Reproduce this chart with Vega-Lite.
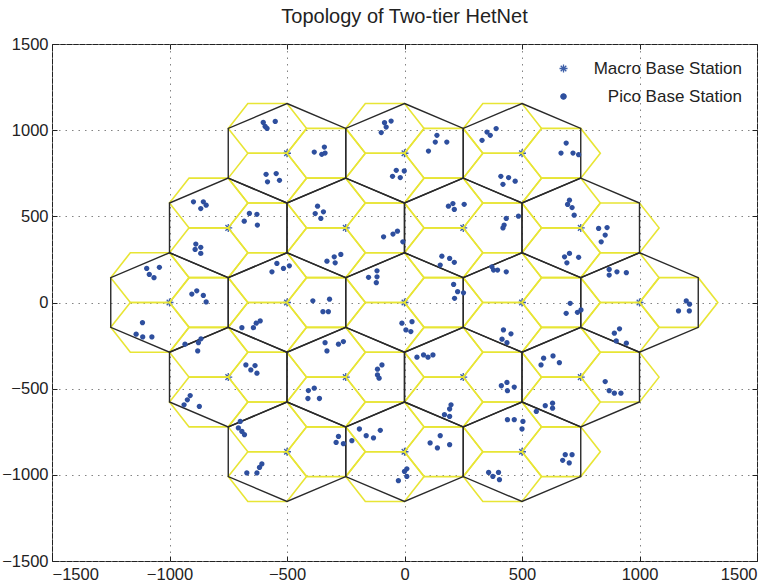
{
"$schema":"https://vega.github.io/schema/vega-lite/v6.json",
"width":705,"height":517,
"autosize":{"type":"none"},
"padding":{"left":52,"top":44,"right":20,"bottom":24},
"background":"white",
"title":{"text":"Topology of Two-tier HetNet","font":"Liberation Sans","fontSize":20,"fontWeight":"normal","color":"#222222","offset":9,"anchor":"middle"},
"config":{"view":{"stroke":"#222222","strokeWidth":1},
"axis":{"labelFont":"Liberation Sans","labelFontSize":16.5,"labelColor":"#222222","domain":false,"tickColor":"#222222","tickSize":-5,"tickWidth":1,"gridColor":"#777777","gridDash":[1.5,5],"gridWidth":1,"gridOpacity":0.9,"title":null,"format":"d"}},
"datasets":{
"yellow":[
{"h":"1A","o":0,"x":-166.7,"y":866},{"h":"1A","o":1,"x":-250,"y":1010.3},{"h":"1A","o":2,"x":-416.7,"y":1010.3},{"h":"1A","o":3,"x":-500,"y":866},{"h":"1A","o":4,"x":-416.7,"y":721.7},{"h":"1A","o":5,"x":-250,"y":721.7},
{"h":"1B","o":0,"x":-416.7,"y":1010.3},{"h":"1B","o":1,"x":-500,"y":1154.7},{"h":"1B","o":2,"x":-666.7,"y":1154.7},{"h":"1B","o":3,"x":-750,"y":1010.3},{"h":"1B","o":4,"x":-666.7,"y":866},{"h":"1B","o":5,"x":-500,"y":866},
{"h":"1C","o":0,"x":-416.7,"y":721.7},{"h":"1C","o":1,"x":-500,"y":866},{"h":"1C","o":2,"x":-666.7,"y":866},{"h":"1C","o":3,"x":-750,"y":721.7},{"h":"1C","o":4,"x":-666.7,"y":577.3},{"h":"1C","o":5,"x":-500,"y":577.3},
{"h":"2A","o":0,"x":333.3,"y":866},{"h":"2A","o":1,"x":250,"y":1010.3},{"h":"2A","o":2,"x":83.3,"y":1010.3},{"h":"2A","o":3,"x":0,"y":866},{"h":"2A","o":4,"x":83.3,"y":721.7},{"h":"2A","o":5,"x":250,"y":721.7},
{"h":"2B","o":0,"x":83.3,"y":1010.3},{"h":"2B","o":1,"x":0,"y":1154.7},{"h":"2B","o":2,"x":-166.7,"y":1154.7},{"h":"2B","o":3,"x":-250,"y":1010.3},{"h":"2B","o":4,"x":-166.7,"y":866},{"h":"2B","o":5,"x":0,"y":866},
{"h":"2C","o":0,"x":83.3,"y":721.7},{"h":"2C","o":1,"x":0,"y":866},{"h":"2C","o":2,"x":-166.7,"y":866},{"h":"2C","o":3,"x":-250,"y":721.7},{"h":"2C","o":4,"x":-166.7,"y":577.3},{"h":"2C","o":5,"x":0,"y":577.3},
{"h":"3A","o":0,"x":833.3,"y":866},{"h":"3A","o":1,"x":750,"y":1010.3},{"h":"3A","o":2,"x":583.3,"y":1010.3},{"h":"3A","o":3,"x":500,"y":866},{"h":"3A","o":4,"x":583.3,"y":721.7},{"h":"3A","o":5,"x":750,"y":721.7},
{"h":"3B","o":0,"x":583.3,"y":1010.3},{"h":"3B","o":1,"x":500,"y":1154.7},{"h":"3B","o":2,"x":333.3,"y":1154.7},{"h":"3B","o":3,"x":250,"y":1010.3},{"h":"3B","o":4,"x":333.3,"y":866},{"h":"3B","o":5,"x":500,"y":866},
{"h":"3C","o":0,"x":583.3,"y":721.7},{"h":"3C","o":1,"x":500,"y":866},{"h":"3C","o":2,"x":333.3,"y":866},{"h":"3C","o":3,"x":250,"y":721.7},{"h":"3C","o":4,"x":333.3,"y":577.3},{"h":"3C","o":5,"x":500,"y":577.3},
{"h":"4A","o":0,"x":-416.7,"y":433},{"h":"4A","o":1,"x":-500,"y":577.3},{"h":"4A","o":2,"x":-666.7,"y":577.3},{"h":"4A","o":3,"x":-750,"y":433},{"h":"4A","o":4,"x":-666.7,"y":288.7},{"h":"4A","o":5,"x":-500,"y":288.7},
{"h":"4B","o":0,"x":-666.7,"y":577.3},{"h":"4B","o":1,"x":-750,"y":721.7},{"h":"4B","o":2,"x":-916.7,"y":721.7},{"h":"4B","o":3,"x":-1000,"y":577.3},{"h":"4B","o":4,"x":-916.7,"y":433},{"h":"4B","o":5,"x":-750,"y":433},
{"h":"4C","o":0,"x":-666.7,"y":288.7},{"h":"4C","o":1,"x":-750,"y":433},{"h":"4C","o":2,"x":-916.7,"y":433},{"h":"4C","o":3,"x":-1000,"y":288.7},{"h":"4C","o":4,"x":-916.7,"y":144.3},{"h":"4C","o":5,"x":-750,"y":144.3},
{"h":"5A","o":0,"x":83.3,"y":433},{"h":"5A","o":1,"x":0,"y":577.3},{"h":"5A","o":2,"x":-166.7,"y":577.3},{"h":"5A","o":3,"x":-250,"y":433},{"h":"5A","o":4,"x":-166.7,"y":288.7},{"h":"5A","o":5,"x":0,"y":288.7},
{"h":"5B","o":0,"x":-166.7,"y":577.3},{"h":"5B","o":1,"x":-250,"y":721.7},{"h":"5B","o":2,"x":-416.7,"y":721.7},{"h":"5B","o":3,"x":-500,"y":577.3},{"h":"5B","o":4,"x":-416.7,"y":433},{"h":"5B","o":5,"x":-250,"y":433},
{"h":"5C","o":0,"x":-166.7,"y":288.7},{"h":"5C","o":1,"x":-250,"y":433},{"h":"5C","o":2,"x":-416.7,"y":433},{"h":"5C","o":3,"x":-500,"y":288.7},{"h":"5C","o":4,"x":-416.7,"y":144.3},{"h":"5C","o":5,"x":-250,"y":144.3},
{"h":"6A","o":0,"x":583.3,"y":433},{"h":"6A","o":1,"x":500,"y":577.3},{"h":"6A","o":2,"x":333.3,"y":577.3},{"h":"6A","o":3,"x":250,"y":433},{"h":"6A","o":4,"x":333.3,"y":288.7},{"h":"6A","o":5,"x":500,"y":288.7},
{"h":"6B","o":0,"x":333.3,"y":577.3},{"h":"6B","o":1,"x":250,"y":721.7},{"h":"6B","o":2,"x":83.3,"y":721.7},{"h":"6B","o":3,"x":0,"y":577.3},{"h":"6B","o":4,"x":83.3,"y":433},{"h":"6B","o":5,"x":250,"y":433},
{"h":"6C","o":0,"x":333.3,"y":288.7},{"h":"6C","o":1,"x":250,"y":433},{"h":"6C","o":2,"x":83.3,"y":433},{"h":"6C","o":3,"x":0,"y":288.7},{"h":"6C","o":4,"x":83.3,"y":144.3},{"h":"6C","o":5,"x":250,"y":144.3},
{"h":"7A","o":0,"x":1083.3,"y":433},{"h":"7A","o":1,"x":1000,"y":577.3},{"h":"7A","o":2,"x":833.3,"y":577.3},{"h":"7A","o":3,"x":750,"y":433},{"h":"7A","o":4,"x":833.3,"y":288.7},{"h":"7A","o":5,"x":1000,"y":288.7},
{"h":"7B","o":0,"x":833.3,"y":577.3},{"h":"7B","o":1,"x":750,"y":721.7},{"h":"7B","o":2,"x":583.3,"y":721.7},{"h":"7B","o":3,"x":500,"y":577.3},{"h":"7B","o":4,"x":583.3,"y":433},{"h":"7B","o":5,"x":750,"y":433},
{"h":"7C","o":0,"x":833.3,"y":288.7},{"h":"7C","o":1,"x":750,"y":433},{"h":"7C","o":2,"x":583.3,"y":433},{"h":"7C","o":3,"x":500,"y":288.7},{"h":"7C","o":4,"x":583.3,"y":144.3},{"h":"7C","o":5,"x":750,"y":144.3},
{"h":"8A","o":0,"x":-666.7,"y":0},{"h":"8A","o":1,"x":-750,"y":144.3},{"h":"8A","o":2,"x":-916.7,"y":144.3},{"h":"8A","o":3,"x":-1000,"y":0},{"h":"8A","o":4,"x":-916.7,"y":-144.3},{"h":"8A","o":5,"x":-750,"y":-144.3},
{"h":"8B","o":0,"x":-916.7,"y":144.3},{"h":"8B","o":1,"x":-1000,"y":288.7},{"h":"8B","o":2,"x":-1166.7,"y":288.7},{"h":"8B","o":3,"x":-1250,"y":144.3},{"h":"8B","o":4,"x":-1166.7,"y":0},{"h":"8B","o":5,"x":-1000,"y":0},
{"h":"8C","o":0,"x":-916.7,"y":-144.3},{"h":"8C","o":1,"x":-1000,"y":0},{"h":"8C","o":2,"x":-1166.7,"y":0},{"h":"8C","o":3,"x":-1250,"y":-144.3},{"h":"8C","o":4,"x":-1166.7,"y":-288.7},{"h":"8C","o":5,"x":-1000,"y":-288.7},
{"h":"9A","o":0,"x":-166.7,"y":0},{"h":"9A","o":1,"x":-250,"y":144.3},{"h":"9A","o":2,"x":-416.7,"y":144.3},{"h":"9A","o":3,"x":-500,"y":0},{"h":"9A","o":4,"x":-416.7,"y":-144.3},{"h":"9A","o":5,"x":-250,"y":-144.3},
{"h":"9B","o":0,"x":-416.7,"y":144.3},{"h":"9B","o":1,"x":-500,"y":288.7},{"h":"9B","o":2,"x":-666.7,"y":288.7},{"h":"9B","o":3,"x":-750,"y":144.3},{"h":"9B","o":4,"x":-666.7,"y":0},{"h":"9B","o":5,"x":-500,"y":0},
{"h":"9C","o":0,"x":-416.7,"y":-144.3},{"h":"9C","o":1,"x":-500,"y":0},{"h":"9C","o":2,"x":-666.7,"y":0},{"h":"9C","o":3,"x":-750,"y":-144.3},{"h":"9C","o":4,"x":-666.7,"y":-288.7},{"h":"9C","o":5,"x":-500,"y":-288.7},
{"h":"10A","o":0,"x":333.3,"y":0},{"h":"10A","o":1,"x":250,"y":144.3},{"h":"10A","o":2,"x":83.3,"y":144.3},{"h":"10A","o":3,"x":0,"y":0},{"h":"10A","o":4,"x":83.3,"y":-144.3},{"h":"10A","o":5,"x":250,"y":-144.3},
{"h":"10B","o":0,"x":83.3,"y":144.3},{"h":"10B","o":1,"x":0,"y":288.7},{"h":"10B","o":2,"x":-166.7,"y":288.7},{"h":"10B","o":3,"x":-250,"y":144.3},{"h":"10B","o":4,"x":-166.7,"y":0},{"h":"10B","o":5,"x":0,"y":0},
{"h":"10C","o":0,"x":83.3,"y":-144.3},{"h":"10C","o":1,"x":0,"y":0},{"h":"10C","o":2,"x":-166.7,"y":0},{"h":"10C","o":3,"x":-250,"y":-144.3},{"h":"10C","o":4,"x":-166.7,"y":-288.7},{"h":"10C","o":5,"x":0,"y":-288.7},
{"h":"11A","o":0,"x":833.3,"y":0},{"h":"11A","o":1,"x":750,"y":144.3},{"h":"11A","o":2,"x":583.3,"y":144.3},{"h":"11A","o":3,"x":500,"y":0},{"h":"11A","o":4,"x":583.3,"y":-144.3},{"h":"11A","o":5,"x":750,"y":-144.3},
{"h":"11B","o":0,"x":583.3,"y":144.3},{"h":"11B","o":1,"x":500,"y":288.7},{"h":"11B","o":2,"x":333.3,"y":288.7},{"h":"11B","o":3,"x":250,"y":144.3},{"h":"11B","o":4,"x":333.3,"y":0},{"h":"11B","o":5,"x":500,"y":0},
{"h":"11C","o":0,"x":583.3,"y":-144.3},{"h":"11C","o":1,"x":500,"y":0},{"h":"11C","o":2,"x":333.3,"y":0},{"h":"11C","o":3,"x":250,"y":-144.3},{"h":"11C","o":4,"x":333.3,"y":-288.7},{"h":"11C","o":5,"x":500,"y":-288.7},
{"h":"12A","o":0,"x":1333.3,"y":0},{"h":"12A","o":1,"x":1250,"y":144.3},{"h":"12A","o":2,"x":1083.3,"y":144.3},{"h":"12A","o":3,"x":1000,"y":0},{"h":"12A","o":4,"x":1083.3,"y":-144.3},{"h":"12A","o":5,"x":1250,"y":-144.3},
{"h":"12B","o":0,"x":1083.3,"y":144.3},{"h":"12B","o":1,"x":1000,"y":288.7},{"h":"12B","o":2,"x":833.3,"y":288.7},{"h":"12B","o":3,"x":750,"y":144.3},{"h":"12B","o":4,"x":833.3,"y":0},{"h":"12B","o":5,"x":1000,"y":0},
{"h":"12C","o":0,"x":1083.3,"y":-144.3},{"h":"12C","o":1,"x":1000,"y":0},{"h":"12C","o":2,"x":833.3,"y":0},{"h":"12C","o":3,"x":750,"y":-144.3},{"h":"12C","o":4,"x":833.3,"y":-288.7},{"h":"12C","o":5,"x":1000,"y":-288.7},
{"h":"13A","o":0,"x":-416.7,"y":-433},{"h":"13A","o":1,"x":-500,"y":-288.7},{"h":"13A","o":2,"x":-666.7,"y":-288.7},{"h":"13A","o":3,"x":-750,"y":-433},{"h":"13A","o":4,"x":-666.7,"y":-577.3},{"h":"13A","o":5,"x":-500,"y":-577.3},
{"h":"13B","o":0,"x":-666.7,"y":-288.7},{"h":"13B","o":1,"x":-750,"y":-144.3},{"h":"13B","o":2,"x":-916.7,"y":-144.3},{"h":"13B","o":3,"x":-1000,"y":-288.7},{"h":"13B","o":4,"x":-916.7,"y":-433},{"h":"13B","o":5,"x":-750,"y":-433},
{"h":"13C","o":0,"x":-666.7,"y":-577.3},{"h":"13C","o":1,"x":-750,"y":-433},{"h":"13C","o":2,"x":-916.7,"y":-433},{"h":"13C","o":3,"x":-1000,"y":-577.3},{"h":"13C","o":4,"x":-916.7,"y":-721.7},{"h":"13C","o":5,"x":-750,"y":-721.7},
{"h":"14A","o":0,"x":83.3,"y":-433},{"h":"14A","o":1,"x":0,"y":-288.7},{"h":"14A","o":2,"x":-166.7,"y":-288.7},{"h":"14A","o":3,"x":-250,"y":-433},{"h":"14A","o":4,"x":-166.7,"y":-577.3},{"h":"14A","o":5,"x":0,"y":-577.3},
{"h":"14B","o":0,"x":-166.7,"y":-288.7},{"h":"14B","o":1,"x":-250,"y":-144.3},{"h":"14B","o":2,"x":-416.7,"y":-144.3},{"h":"14B","o":3,"x":-500,"y":-288.7},{"h":"14B","o":4,"x":-416.7,"y":-433},{"h":"14B","o":5,"x":-250,"y":-433},
{"h":"14C","o":0,"x":-166.7,"y":-577.3},{"h":"14C","o":1,"x":-250,"y":-433},{"h":"14C","o":2,"x":-416.7,"y":-433},{"h":"14C","o":3,"x":-500,"y":-577.3},{"h":"14C","o":4,"x":-416.7,"y":-721.7},{"h":"14C","o":5,"x":-250,"y":-721.7},
{"h":"15A","o":0,"x":583.3,"y":-433},{"h":"15A","o":1,"x":500,"y":-288.7},{"h":"15A","o":2,"x":333.3,"y":-288.7},{"h":"15A","o":3,"x":250,"y":-433},{"h":"15A","o":4,"x":333.3,"y":-577.3},{"h":"15A","o":5,"x":500,"y":-577.3},
{"h":"15B","o":0,"x":333.3,"y":-288.7},{"h":"15B","o":1,"x":250,"y":-144.3},{"h":"15B","o":2,"x":83.3,"y":-144.3},{"h":"15B","o":3,"x":0,"y":-288.7},{"h":"15B","o":4,"x":83.3,"y":-433},{"h":"15B","o":5,"x":250,"y":-433},
{"h":"15C","o":0,"x":333.3,"y":-577.3},{"h":"15C","o":1,"x":250,"y":-433},{"h":"15C","o":2,"x":83.3,"y":-433},{"h":"15C","o":3,"x":0,"y":-577.3},{"h":"15C","o":4,"x":83.3,"y":-721.7},{"h":"15C","o":5,"x":250,"y":-721.7},
{"h":"16A","o":0,"x":1083.3,"y":-433},{"h":"16A","o":1,"x":1000,"y":-288.7},{"h":"16A","o":2,"x":833.3,"y":-288.7},{"h":"16A","o":3,"x":750,"y":-433},{"h":"16A","o":4,"x":833.3,"y":-577.3},{"h":"16A","o":5,"x":1000,"y":-577.3},
{"h":"16B","o":0,"x":833.3,"y":-288.7},{"h":"16B","o":1,"x":750,"y":-144.3},{"h":"16B","o":2,"x":583.3,"y":-144.3},{"h":"16B","o":3,"x":500,"y":-288.7},{"h":"16B","o":4,"x":583.3,"y":-433},{"h":"16B","o":5,"x":750,"y":-433},
{"h":"16C","o":0,"x":833.3,"y":-577.3},{"h":"16C","o":1,"x":750,"y":-433},{"h":"16C","o":2,"x":583.3,"y":-433},{"h":"16C","o":3,"x":500,"y":-577.3},{"h":"16C","o":4,"x":583.3,"y":-721.7},{"h":"16C","o":5,"x":750,"y":-721.7},
{"h":"17A","o":0,"x":-166.7,"y":-866},{"h":"17A","o":1,"x":-250,"y":-721.7},{"h":"17A","o":2,"x":-416.7,"y":-721.7},{"h":"17A","o":3,"x":-500,"y":-866},{"h":"17A","o":4,"x":-416.7,"y":-1010.3},{"h":"17A","o":5,"x":-250,"y":-1010.3},
{"h":"17B","o":0,"x":-416.7,"y":-721.7},{"h":"17B","o":1,"x":-500,"y":-577.3},{"h":"17B","o":2,"x":-666.7,"y":-577.3},{"h":"17B","o":3,"x":-750,"y":-721.7},{"h":"17B","o":4,"x":-666.7,"y":-866},{"h":"17B","o":5,"x":-500,"y":-866},
{"h":"17C","o":0,"x":-416.7,"y":-1010.3},{"h":"17C","o":1,"x":-500,"y":-866},{"h":"17C","o":2,"x":-666.7,"y":-866},{"h":"17C","o":3,"x":-750,"y":-1010.3},{"h":"17C","o":4,"x":-666.7,"y":-1154.7},{"h":"17C","o":5,"x":-500,"y":-1154.7},
{"h":"18A","o":0,"x":333.3,"y":-866},{"h":"18A","o":1,"x":250,"y":-721.7},{"h":"18A","o":2,"x":83.3,"y":-721.7},{"h":"18A","o":3,"x":0,"y":-866},{"h":"18A","o":4,"x":83.3,"y":-1010.3},{"h":"18A","o":5,"x":250,"y":-1010.3},
{"h":"18B","o":0,"x":83.3,"y":-721.7},{"h":"18B","o":1,"x":0,"y":-577.3},{"h":"18B","o":2,"x":-166.7,"y":-577.3},{"h":"18B","o":3,"x":-250,"y":-721.7},{"h":"18B","o":4,"x":-166.7,"y":-866},{"h":"18B","o":5,"x":0,"y":-866},
{"h":"18C","o":0,"x":83.3,"y":-1010.3},{"h":"18C","o":1,"x":0,"y":-866},{"h":"18C","o":2,"x":-166.7,"y":-866},{"h":"18C","o":3,"x":-250,"y":-1010.3},{"h":"18C","o":4,"x":-166.7,"y":-1154.7},{"h":"18C","o":5,"x":0,"y":-1154.7},
{"h":"19A","o":0,"x":833.3,"y":-866},{"h":"19A","o":1,"x":750,"y":-721.7},{"h":"19A","o":2,"x":583.3,"y":-721.7},{"h":"19A","o":3,"x":500,"y":-866},{"h":"19A","o":4,"x":583.3,"y":-1010.3},{"h":"19A","o":5,"x":750,"y":-1010.3},
{"h":"19B","o":0,"x":583.3,"y":-721.7},{"h":"19B","o":1,"x":500,"y":-577.3},{"h":"19B","o":2,"x":333.3,"y":-577.3},{"h":"19B","o":3,"x":250,"y":-721.7},{"h":"19B","o":4,"x":333.3,"y":-866},{"h":"19B","o":5,"x":500,"y":-866},
{"h":"19C","o":0,"x":583.3,"y":-1010.3},{"h":"19C","o":1,"x":500,"y":-866},{"h":"19C","o":2,"x":333.3,"y":-866},{"h":"19C","o":3,"x":250,"y":-1010.3},{"h":"19C","o":4,"x":333.3,"y":-1154.7},{"h":"19C","o":5,"x":500,"y":-1154.7}
],
"black":[
{"h":"1","o":0,"x":-500,"y":1154.7},{"h":"1","o":1,"x":-250,"y":1010.3},{"h":"1","o":2,"x":-250,"y":721.7},{"h":"1","o":3,"x":-500,"y":577.3},{"h":"1","o":4,"x":-750,"y":721.7},{"h":"1","o":5,"x":-750,"y":1010.3},
{"h":"2","o":0,"x":0,"y":1154.7},{"h":"2","o":1,"x":250,"y":1010.3},{"h":"2","o":2,"x":250,"y":721.7},{"h":"2","o":3,"x":0,"y":577.3},{"h":"2","o":4,"x":-250,"y":721.7},{"h":"2","o":5,"x":-250,"y":1010.3},
{"h":"3","o":0,"x":500,"y":1154.7},{"h":"3","o":1,"x":750,"y":1010.3},{"h":"3","o":2,"x":750,"y":721.7},{"h":"3","o":3,"x":500,"y":577.3},{"h":"3","o":4,"x":250,"y":721.7},{"h":"3","o":5,"x":250,"y":1010.3},
{"h":"4","o":0,"x":-750,"y":721.7},{"h":"4","o":1,"x":-500,"y":577.3},{"h":"4","o":2,"x":-500,"y":288.7},{"h":"4","o":3,"x":-750,"y":144.3},{"h":"4","o":4,"x":-1000,"y":288.7},{"h":"4","o":5,"x":-1000,"y":577.3},
{"h":"5","o":0,"x":-250,"y":721.7},{"h":"5","o":1,"x":0,"y":577.3},{"h":"5","o":2,"x":0,"y":288.7},{"h":"5","o":3,"x":-250,"y":144.3},{"h":"5","o":4,"x":-500,"y":288.7},{"h":"5","o":5,"x":-500,"y":577.3},
{"h":"6","o":0,"x":250,"y":721.7},{"h":"6","o":1,"x":500,"y":577.3},{"h":"6","o":2,"x":500,"y":288.7},{"h":"6","o":3,"x":250,"y":144.3},{"h":"6","o":4,"x":0,"y":288.7},{"h":"6","o":5,"x":0,"y":577.3},
{"h":"7","o":0,"x":750,"y":721.7},{"h":"7","o":1,"x":1000,"y":577.3},{"h":"7","o":2,"x":1000,"y":288.7},{"h":"7","o":3,"x":750,"y":144.3},{"h":"7","o":4,"x":500,"y":288.7},{"h":"7","o":5,"x":500,"y":577.3},
{"h":"8","o":0,"x":-1000,"y":288.7},{"h":"8","o":1,"x":-750,"y":144.3},{"h":"8","o":2,"x":-750,"y":-144.3},{"h":"8","o":3,"x":-1000,"y":-288.7},{"h":"8","o":4,"x":-1250,"y":-144.3},{"h":"8","o":5,"x":-1250,"y":144.3},
{"h":"9","o":0,"x":-500,"y":288.7},{"h":"9","o":1,"x":-250,"y":144.3},{"h":"9","o":2,"x":-250,"y":-144.3},{"h":"9","o":3,"x":-500,"y":-288.7},{"h":"9","o":4,"x":-750,"y":-144.3},{"h":"9","o":5,"x":-750,"y":144.3},
{"h":"10","o":0,"x":0,"y":288.7},{"h":"10","o":1,"x":250,"y":144.3},{"h":"10","o":2,"x":250,"y":-144.3},{"h":"10","o":3,"x":0,"y":-288.7},{"h":"10","o":4,"x":-250,"y":-144.3},{"h":"10","o":5,"x":-250,"y":144.3},
{"h":"11","o":0,"x":500,"y":288.7},{"h":"11","o":1,"x":750,"y":144.3},{"h":"11","o":2,"x":750,"y":-144.3},{"h":"11","o":3,"x":500,"y":-288.7},{"h":"11","o":4,"x":250,"y":-144.3},{"h":"11","o":5,"x":250,"y":144.3},
{"h":"12","o":0,"x":1000,"y":288.7},{"h":"12","o":1,"x":1250,"y":144.3},{"h":"12","o":2,"x":1250,"y":-144.3},{"h":"12","o":3,"x":1000,"y":-288.7},{"h":"12","o":4,"x":750,"y":-144.3},{"h":"12","o":5,"x":750,"y":144.3},
{"h":"13","o":0,"x":-750,"y":-144.3},{"h":"13","o":1,"x":-500,"y":-288.7},{"h":"13","o":2,"x":-500,"y":-577.3},{"h":"13","o":3,"x":-750,"y":-721.7},{"h":"13","o":4,"x":-1000,"y":-577.3},{"h":"13","o":5,"x":-1000,"y":-288.7},
{"h":"14","o":0,"x":-250,"y":-144.3},{"h":"14","o":1,"x":0,"y":-288.7},{"h":"14","o":2,"x":0,"y":-577.3},{"h":"14","o":3,"x":-250,"y":-721.7},{"h":"14","o":4,"x":-500,"y":-577.3},{"h":"14","o":5,"x":-500,"y":-288.7},
{"h":"15","o":0,"x":250,"y":-144.3},{"h":"15","o":1,"x":500,"y":-288.7},{"h":"15","o":2,"x":500,"y":-577.3},{"h":"15","o":3,"x":250,"y":-721.7},{"h":"15","o":4,"x":0,"y":-577.3},{"h":"15","o":5,"x":0,"y":-288.7},
{"h":"16","o":0,"x":750,"y":-144.3},{"h":"16","o":1,"x":1000,"y":-288.7},{"h":"16","o":2,"x":1000,"y":-577.3},{"h":"16","o":3,"x":750,"y":-721.7},{"h":"16","o":4,"x":500,"y":-577.3},{"h":"16","o":5,"x":500,"y":-288.7},
{"h":"17","o":0,"x":-500,"y":-577.3},{"h":"17","o":1,"x":-250,"y":-721.7},{"h":"17","o":2,"x":-250,"y":-1010.3},{"h":"17","o":3,"x":-500,"y":-1154.7},{"h":"17","o":4,"x":-750,"y":-1010.3},{"h":"17","o":5,"x":-750,"y":-721.7},
{"h":"18","o":0,"x":0,"y":-577.3},{"h":"18","o":1,"x":250,"y":-721.7},{"h":"18","o":2,"x":250,"y":-1010.3},{"h":"18","o":3,"x":0,"y":-1154.7},{"h":"18","o":4,"x":-250,"y":-1010.3},{"h":"18","o":5,"x":-250,"y":-721.7},
{"h":"19","o":0,"x":500,"y":-577.3},{"h":"19","o":1,"x":750,"y":-721.7},{"h":"19","o":2,"x":750,"y":-1010.3},{"h":"19","o":3,"x":500,"y":-1154.7},{"h":"19","o":4,"x":250,"y":-1010.3},{"h":"19","o":5,"x":250,"y":-721.7}
],
"macro":[
{"x":-500,"y":866},{"x":0,"y":866},{"x":500,"y":866},
{"x":-750,"y":433},{"x":-250,"y":433},{"x":250,"y":433},{"x":750,"y":433},
{"x":-1000,"y":0},{"x":-500,"y":0},{"x":0,"y":0},{"x":500,"y":0},{"x":1000,"y":0},
{"x":-750,"y":-433},{"x":-250,"y":-433},{"x":250,"y":-433},{"x":750,"y":-433},
{"x":-500,"y":-866},{"x":0,"y":-866},{"x":500,"y":-866}
],
"pico":[
{"x":-384,"y":873},{"x":-352,"y":860},{"x":-338,"y":867},{"x":-341,"y":902},
{"x":-601,"y":1045},{"x":-593,"y":1022},{"x":-585,"y":1010},{"x":-550,"y":1051},
{"x":-589,"y":744},{"x":-583,"y":700},{"x":-546,"y":748},{"x":-532,"y":709},
{"x":102,"y":879},{"x":131,"y":931},{"x":138,"y":970},{"x":180,"y":931},
{"x":-99,"y":986},{"x":-85,"y":1043},{"x":-57,"y":1053},{"x":-78,"y":1018},
{"x":-35,"y":767},{"x":-1,"y":763},{"x":-51,"y":732},{"x":-18,"y":725},
{"x":688,"y":925},{"x":666,"y":867},{"x":717,"y":867},{"x":741,"y":858},
{"x":330,"y":941},{"x":351,"y":989},{"x":365,"y":970},{"x":390,"y":1009},
{"x":410,"y":732},{"x":443,"y":725},{"x":419,"y":686},{"x":471,"y":704},
{"x":-660,"y":517},{"x":-628,"y":512},{"x":-682,"y":472},{"x":-626,"y":449},
{"x":-898,"y":584},{"x":-856,"y":584},{"x":-844,"y":565},{"x":-867,"y":545},
{"x":-888,"y":339},{"x":-867,"y":320},{"x":-891,"y":308},{"x":-867,"y":285},
{"x":-89,"y":381},{"x":-49,"y":397},{"x":-30,"y":414},{"x":-7,"y":352},
{"x":-370,"y":559},{"x":-380,"y":516},{"x":-345,"y":526},{"x":-356,"y":488},
{"x":-330,"y":240},{"x":-299,"y":265},{"x":-295,"y":230},{"x":-271,"y":279},
{"x":433,"y":488},{"x":424,"y":449},{"x":419,"y":433},{"x":485,"y":501},
{"x":187,"y":559},{"x":206,"y":574},{"x":212,"y":540},{"x":254,"y":570},
{"x":159,"y":269},{"x":192,"y":256},{"x":212,"y":233},{"x":152,"y":217},
{"x":826,"y":430},{"x":862,"y":435},{"x":854,"y":391},{"x":837,"y":352},
{"x":702,"y":594},{"x":694,"y":569},{"x":713,"y":551},{"x":722,"y":507},
{"x":681,"y":265},{"x":702,"y":285},{"x":691,"y":230},{"x":741,"y":262},
{"x":-905,"y":49},{"x":-884,"y":68},{"x":-856,"y":41},{"x":-844,"y":3},
{"x":-1097,"y":198},{"x":-1043,"y":204},{"x":-1086,"y":163},{"x":-1066,"y":144},
{"x":-1115,"y":-117},{"x":-1142,"y":-184},{"x":-1114,"y":-200},{"x":-1075,"y":-200},
{"x":-390,"y":10},{"x":-319,"y":19},{"x":-347,"y":-53},{"x":-324,"y":-53},
{"x":-564,"y":178},{"x":-543,"y":227},{"x":-515,"y":198},{"x":-490,"y":213},
{"x":-692,"y":-146},{"x":-643,"y":-146},{"x":-631,"y":-120},{"x":-614,"y":-107},
{"x":209,"y":105},{"x":226,"y":63},{"x":251,"y":56},{"x":213,"y":24},
{"x":-153,"y":146},{"x":-117,"y":184},{"x":-117,"y":149},{"x":-120,"y":115},
{"x":-11,"y":-120},{"x":32,"y":-111},{"x":6,"y":-159},{"x":27,"y":-169},
{"x":705,"y":-5},{"x":688,"y":-63},{"x":736,"y":-57},{"x":751,"y":-43},
{"x":372,"y":207},{"x":379,"y":188},{"x":396,"y":188},{"x":433,"y":178},
{"x":421,"y":-159},{"x":453,"y":-182},{"x":415,"y":-213},{"x":436,"y":-233},
{"x":1199,"y":9},{"x":1213,"y":-10},{"x":1166,"y":-49},{"x":1212,"y":-49},
{"x":871,"y":192},{"x":904,"y":178},{"x":944,"y":173},{"x":871,"y":159},
{"x":915,"y":-153},{"x":893,"y":-178},{"x":901,"y":-223},{"x":944,"y":-236},
{"x":-675,"y":-362},{"x":-654,"y":-391},{"x":-636,"y":-366},{"x":-628,"y":-410},
{"x":-934,"y":-242},{"x":-877,"y":-233},{"x":-866,"y":-211},{"x":-880,"y":-281},
{"x":-912,"y":-540},{"x":-924,"y":-565},{"x":-938,"y":-594},{"x":-873,"y":-603},
{"x":-96,"y":-362},{"x":-115,"y":-387},{"x":-115,"y":-420},{"x":-108,"y":-439},
{"x":-338,"y":-233},{"x":-330,"y":-281},{"x":-281,"y":-242},{"x":-260,"y":-227},
{"x":-409,"y":-511},{"x":-384,"y":-497},{"x":-411,"y":-557},{"x":-362,"y":-557},
{"x":412,"y":-483},{"x":436,"y":-464},{"x":438,"y":-512},{"x":467,"y":-491},
{"x":53,"y":-317},{"x":81,"y":-304},{"x":100,"y":-317},{"x":121,"y":-304},
{"x":198,"y":-594},{"x":192,"y":-618},{"x":170,"y":-651},{"x":192,"y":-661},
{"x":854,"y":-459},{"x":871,"y":-512},{"x":893,"y":-526},{"x":921,"y":-526},
{"x":592,"y":-323},{"x":632,"y":-310},{"x":581,"y":-362},{"x":659,"y":-349},
{"x":561,"y":-632},{"x":599,"y":-599},{"x":630,"y":-584},{"x":630,"y":-613},
{"x":-281,"y":-777},{"x":-291,"y":-812},{"x":-260,"y":-819},{"x":-224,"y":-802},
{"x":-699,"y":-690},{"x":-707,"y":-728},{"x":-692,"y":-748},{"x":-681,"y":-767},
{"x":-671,"y":-989},{"x":-628,"y":-989},{"x":-617,"y":-957},{"x":-607,"y":-937},
{"x":109,"y":-815},{"x":152,"y":-773},{"x":140,"y":-844},{"x":192,"y":-825},
{"x":-192,"y":-734},{"x":-163,"y":-773},{"x":-132,"y":-786},{"x":-103,"y":-742},
{"x":0,"y":-980},{"x":10,"y":-965},{"x":10,"y":-1009},{"x":-26,"y":-1034},
{"x":684,"y":-883},{"x":713,"y":-883},{"x":673,"y":-916},{"x":701,"y":-931},
{"x":438,"y":-680},{"x":467,"y":-680},{"x":504,"y":-690},{"x":500,"y":-734},
{"x":358,"y":-986},{"x":376,"y":-1009},{"x":400,"y":-986},{"x":404,"y":-1028}
]
},
"resolve":{"axis":{"x":"independent","y":"independent"}},
"layer":[
{"data":{"name":"macro"},
"mark":{"type":"point","filled":false,"strokeWidth":1.3,"size":64,"opacity":1},
"encoding":{
"x":{"field":"x","type":"quantitative","scale":{"domain":[-1500,1500],"nice":false,"zero":false},"axis":{"orient":"bottom","values":[-1500,-1000,-500,0,500,1000,1500],"grid":true,"labelPadding":10}},
"y":{"field":"y","type":"quantitative","scale":{"domain":[-1500,1500],"nice":false,"zero":false},"axis":{"orient":"left","values":[-1500,-1000,-500,0,500,1000,1500],"grid":true,"labelPadding":9}},
"color":{"datum":"Macro Base Station","type":"nominal","scale":{"domain":["Macro Base Station","Pico Base Station"],"range":["#3d5fa8","#2e4f9e"]},
"legend":{"title":null,"orient":"none","legendX":503,"legendY":16,"padding":0,"labelFont":"Liberation Sans","labelFontSize":17,"labelColor":"#222222","symbolSize":64,"symbolStrokeWidth":1.3,"symbolOpacity":1,"rowPadding":10,"labelAlign":"right","labelOffset":170,
"encode":{"symbols":{"update":{"fill":{"scale":"color","field":"value"},"stroke":{"scale":"color","field":"value"},"opacity":{"value":1}}}}}},
"shape":{"datum":"Macro Base Station","type":"nominal","scale":{"domain":["Macro Base Station","Pico Base Station"],"range":["M0,-1L0,1M-1,0L1,0M-0.7,-0.7L0.7,0.7M-0.7,0.7L0.7,-0.7","M0.66,0A0.66,0.66,0,1,1,-0.66,0A0.66,0.66,0,1,1,0.66,0Z"]},"legend":{"title":null}}
}},
{"data":{"name":"yellow"},
"mark":{"type":"line","interpolate":"linear-closed","stroke":"#e8e535","strokeWidth":1.6},
"encoding":{
"x":{"field":"x","type":"quantitative","scale":{"domain":[-1500,1500],"nice":false,"zero":false},"axis":{"orient":"top","values":[-1500,-1000,-500,0,500,1000,1500],"labels":false,"grid":false}},
"y":{"field":"y","type":"quantitative","scale":{"domain":[-1500,1500],"nice":false,"zero":false},"axis":{"orient":"right","values":[-1500,-1000,-500,0,500,1000,1500],"labels":false,"grid":false}},
"detail":{"field":"h","type":"nominal"},
"order":{"field":"o","type":"quantitative"}
}},
{"data":{"name":"black"},
"mark":{"type":"line","interpolate":"linear-closed","stroke":"#2a2a2a","strokeWidth":1.4},
"encoding":{
"x":{"field":"x","type":"quantitative","scale":{"domain":[-1500,1500],"nice":false,"zero":false},"axis":null},
"y":{"field":"y","type":"quantitative","scale":{"domain":[-1500,1500],"nice":false,"zero":false},"axis":null},
"detail":{"field":"h","type":"nominal"},
"order":{"field":"o","type":"quantitative"}
}},
{"data":{"name":"pico"},
"mark":{"type":"point","filled":true,"strokeWidth":0,"size":64,"opacity":1},
"encoding":{
"x":{"field":"x","type":"quantitative","scale":{"domain":[-1500,1500],"nice":false,"zero":false},"axis":null},
"y":{"field":"y","type":"quantitative","scale":{"domain":[-1500,1500],"nice":false,"zero":false},"axis":null},
"color":{"datum":"Pico Base Station","type":"nominal"},
"shape":{"datum":"Pico Base Station","type":"nominal"}
}}
]
}
